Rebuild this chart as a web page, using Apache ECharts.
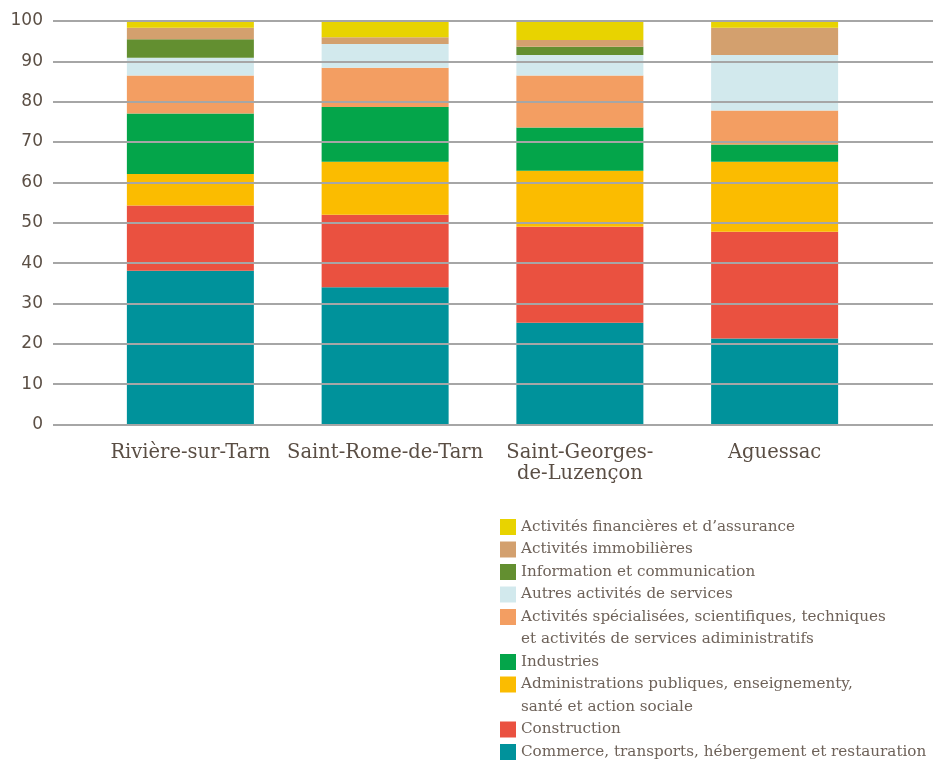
<!DOCTYPE html>
<html>
<head>
<meta charset="utf-8">
<script src="https://cdn.jsdelivr.net/npm/echarts@6/dist/echarts.min.js"></script>
<style>
  html, body { margin: 0; padding: 0; background: #ffffff; }
  #chart { width: 933px; height: 760px; }
</style>
</head>
<body>
<div id="chart"></div>
<script>
// Communes (x categories)
const communes = ['Rivière-sur-Tarn', 'Saint-Rome-de-Tarn', 'Saint-Georges-\nde-Luzençon', 'Aguessac'];

// Share of establishments by sector (%), stacked bottom to top
const commerce       = [38.1, 34.0, 25.2, 21.3];
const construction   = [16.2, 18.0, 23.8, 26.5];
const administration = [7.8, 13.1, 13.9, 17.3];
const industries     = [15.0, 13.6, 10.7, 4.3];
const specialisees   = [9.4, 9.7, 12.9, 8.4];
const autres         = [4.4, 5.9, 5.1, 13.8];
const information    = [4.6, 0, 2.0, 0];
const immobilieres   = [2.8, 1.7, 1.7, 6.7];
const financieres    = [1.7, 4.0, 4.7, 1.7];

// Y axis ticks
const yMin = 0, yMax = 100, yStep = 10;

// Sector names as printed in the key
const names = {
  financieres: 'Activités financières et d’assurance',
  immobilieres: 'Activités immobilières',
  information: 'Information et communication',
  autres: 'Autres activités de services',
  specialisees: 'Activités spécialisées, scientifiques, techniques\net activités de services adiministratifs',
  industries: 'Industries',
  administration: 'Administrations publiques, enseignementy,\nsanté et action sociale',
  construction: 'Construction',
  commerce: 'Commerce, transports, hébergement et restauration'
};

const colors = {
  commerce: '#00929b',
  construction: '#ea5140',
  administration: '#fbbc00',
  industries: '#04a54a',
  specialisees: '#f39e62',
  autres: '#d2e9ed',
  information: '#638f30',
  immobilieres: '#d3a06e',
  financieres: '#e8d300'
};

const stackOrder = [
  ['commerce', commerce],
  ['construction', construction],
  ['administration', administration],
  ['industries', industries],
  ['specialisees', specialisees],
  ['autres', autres],
  ['information', information],
  ['immobilieres', immobilieres],
  ['financieres', financieres]
];

const series = stackOrder.map(([key, values]) => ({
  name: names[key],
  type: 'bar',
  stack: 'total',
  barWidth: 127,
  xAxisIndex: 0,
  yAxisIndex: 0,
  itemStyle: { color: colors[key] },
  data: values
}));

// Key: one legend block per sector, stacked top to bottom.
// Two-line names get an empty leading line so the first line sits beside the swatch.
const keyOrder = ['financieres', 'immobilieres', 'information', 'autres', 'specialisees',
                  'industries', 'administration', 'construction', 'commerce'];
const lineStep = 22.5;
const firstCenter = 527;
const legendFont = { fontFamily: 'DejaVu Serif', fontSize: 15.2, color: '#6e6259', lineHeight: lineStep };
const legends = [];
let line = 0;
keyOrder.forEach(key => {
  const twoLines = names[key].indexOf('\n') >= 0;
  const center = firstCenter + line * lineStep;
  const top = twoLines ? center - 8 - lineStep - 3.25 : center - 8 - 3.25;
  legends.push({
    left: 500,
    top: top,
    padding: 0,
    orient: 'vertical',
    itemWidth: 16,
    itemHeight: 16,
    icon: 'rect',
    selectedMode: false,
    textStyle: legendFont,
    formatter: twoLines ? (n => '\n' + n) : (n => n),
    data: [names[key]]
  });
  line += twoLines ? 2 : 1;
});

const chart = echarts.init(document.getElementById('chart'), null, { renderer: 'canvas' });
chart.setOption({
  animation: false,
  backgroundColor: '#ffffff',
  grid: [
    { left: 93, right: 61, top: 21, bottom: 335.5 },
    { left: 53, right: 0, top: 21, bottom: 335.5 }
  ],
  legend: legends,
  xAxis: [
    {
      type: 'category',
      gridIndex: 0,
      data: communes,
      axisLine: { show: false },
      axisTick: { show: false },
      axisLabel: {
        margin: 18,
        fontFamily: 'DejaVu Serif',
        fontSize: 19.5,
        lineHeight: 21,
        color: '#5a4e44',
        interval: 0
      }
    },
    { type: 'value', gridIndex: 1, show: false, min: 0, max: 1 }
  ],
  yAxis: [
    { type: 'value', gridIndex: 0, min: yMin, max: yMax, interval: yStep, show: false },
    {
      type: 'value',
      gridIndex: 1,
      min: yMin,
      max: yMax,
      interval: yStep,
      z: 5,
      axisLine: { show: false },
      axisTick: { show: false },
      axisLabel: {
        margin: 10,
        fontFamily: 'DejaVu Sans',
        fontSize: 17,
        color: '#5b4f45'
      },
      splitLine: { show: true, lineStyle: { color: '#a6a6a6', width: 2 } }
    }
  ],
  series: series
});
</script>
</body>
</html>
